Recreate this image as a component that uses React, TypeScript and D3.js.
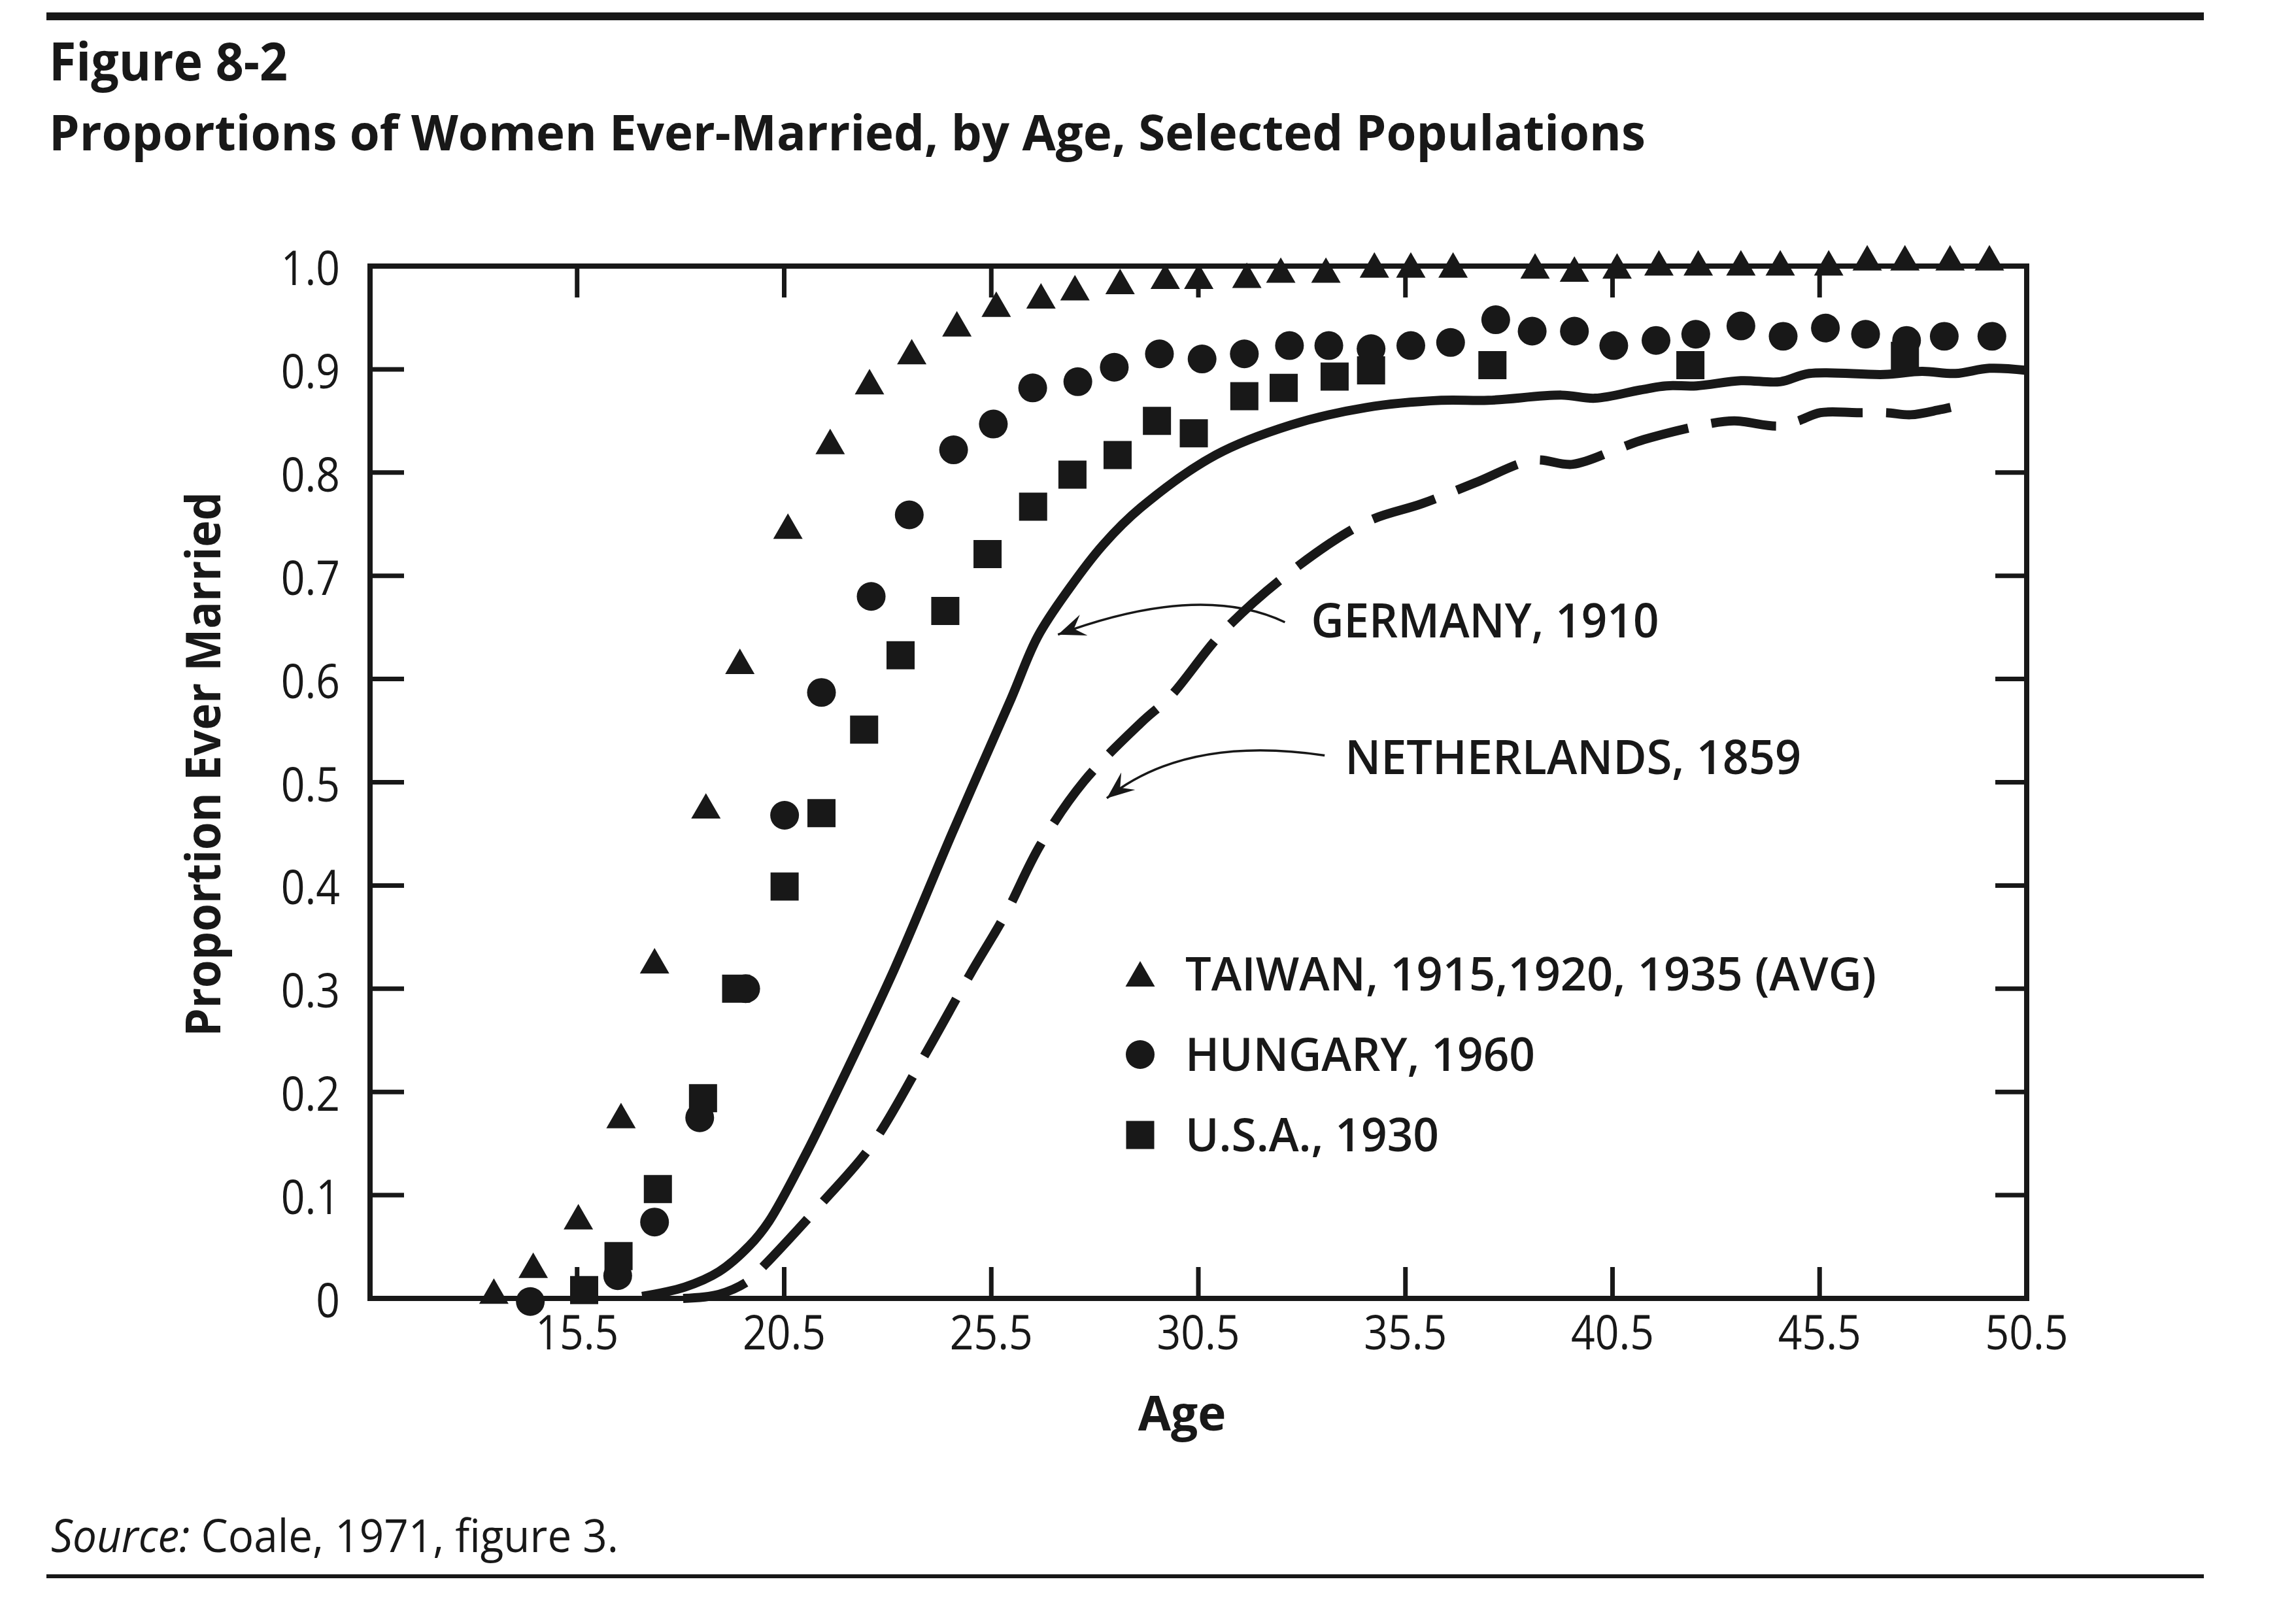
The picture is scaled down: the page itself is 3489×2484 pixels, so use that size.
import * as d3 from 'd3'

type Pt = [number, number]

// age, proportion ever married
const taiwan: Pt[] = [
  [13.49, 0.003], [14.44, 0.028], [15.53, 0.075], [16.56, 0.173], [17.37, 0.323],
  [18.61, 0.473], [19.43, 0.613], [20.59, 0.744], [21.61, 0.826], [22.56, 0.884],
  [23.58, 0.913], [24.67, 0.94], [25.62, 0.959], [26.7, 0.967], [27.52, 0.975],
  [28.61, 0.981], [29.7, 0.986], [30.51, 0.986], [31.67, 0.987], [32.49, 0.992],
  [33.58, 0.992], [34.75, 0.997], [35.63, 0.997], [36.65, 0.997], [38.63, 0.996],
  [39.58, 0.993], [40.61, 0.996], [41.62, 0.999], [42.57, 0.999], [43.6, 0.999],
  [44.55, 0.999], [45.72, 0.999], [46.65, 1.004], [47.56, 1.004], [48.65, 1.004],
  [49.6, 1.004],
]

const hungary: Pt[] = [
  [14.37, -0.003], [16.48, 0.022], [17.37, 0.074], [18.46, 0.175], [19.57, 0.3],
  [20.51, 0.468], [21.4, 0.587], [22.6, 0.68], [23.52, 0.759], [24.59, 0.822],
  [25.55, 0.847], [26.5, 0.882], [27.59, 0.888], [28.47, 0.902], [29.56, 0.915],
  [30.59, 0.91], [31.61, 0.915], [32.7, 0.923], [33.65, 0.923], [34.67, 0.92],
  [35.63, 0.923], [36.59, 0.926], [37.68, 0.948], [38.56, 0.937], [39.58, 0.937],
  [40.53, 0.923], [41.55, 0.928], [42.51, 0.934], [43.6, 0.942], [44.62, 0.932],
  [45.64, 0.94], [46.61, 0.934], [47.6, 0.928], [48.51, 0.932], [49.66, 0.932],
]

const usa: Pt[] = [
  [15.67, 0.008], [16.5, 0.041], [17.45, 0.106], [18.54, 0.194], [19.34, 0.3],
  [20.51, 0.399], [21.4, 0.47], [22.43, 0.551], [23.31, 0.623], [24.39, 0.666],
  [25.41, 0.721], [26.51, 0.767], [27.46, 0.798], [28.55, 0.817], [29.5, 0.85],
  [30.39, 0.838], [31.61, 0.874], [32.56, 0.882], [33.79, 0.893], [34.67, 0.899],
  [37.6, 0.904], [42.38, 0.904], [47.56, 0.913],
]

const germany: Pt[] = [
  [17.07, 0.002], [18.1, 0.011], [18.93, 0.026], [19.66, 0.051], [20.13, 0.0745],
  [21.0, 0.138], [21.75, 0.199], [23.16, 0.319], [24.57, 0.452], [25.98, 0.581],
  [26.62, 0.641], [27.39, 0.688], [28.2, 0.73], [29.11, 0.766], [30.92, 0.817],
  [32.73, 0.846], [34.55, 0.863], [36.36, 0.87], [37.5, 0.87], [39.27, 0.875],
  [40.08, 0.872], [41.17, 0.88], [41.8, 0.884], [42.53, 0.884], [43.6, 0.889],
  [44.55, 0.888], [45.25, 0.896], [47.06, 0.895], [47.97, 0.898], [48.78, 0.896],
  [49.6, 0.901], [50.5, 0.899],
]

const netherlands: Pt[] = [
  [18.06, 0.0], [18.93, 0.004], [19.64, 0.017], [20.02, 0.032], [21.4, 0.092],
  [22.6, 0.148], [23.87, 0.234], [24.99, 0.314], [25.84, 0.372], [26.68, 0.439],
  [27.74, 0.501], [29.15, 0.559], [29.82, 0.583], [31.1, 0.646], [32.73, 0.704],
  [34.55, 0.752], [35.91, 0.77], [37.18, 0.79], [38.59, 0.812], [39.54, 0.808],
  [40.63, 0.823], [41.26, 0.832], [42.8, 0.847], [43.44, 0.85], [44.52, 0.845],
  [44.98, 0.85], [45.52, 0.858], [46.4, 0.858], [47.11, 0.858], [47.7, 0.856],
  [48.42, 0.861], [49.19, 0.868],
]

const xTicks = [15.5, 20.5, 25.5, 30.5, 35.5, 40.5, 45.5, 50.5]
const yTicks = [0, 0.1, 0.2, 0.3, 0.4, 0.5, 0.6, 0.7, 0.8, 0.9, 1.0]
const yTickLabels = ['0', '0.1', '0.2', '0.3', '0.4', '0.5', '0.6', '0.7', '0.8', '0.9', '1.0']

const legendItems = [
  { label: 'TAIWAN, 1915,1920, 1935 (AVG)', shape: 'triangle', width: 1057 },
  { label: 'HUNGARY, 1960', shape: 'circle', width: 535 },
  { label: 'U.S.A., 1930', shape: 'square', width: 388 },
]

// arrow: tail near the label, bend point, tip on the curve (data units)
const callouts = [
  { label: 'GERMANY, 1910', width: 532, tail: [32.59, 0.655] as Pt, bend: [30.54, 0.694] as Pt, tip: [27.11, 0.643] as Pt, dx: 40, dy: 23 },
  { label: 'NETHERLANDS, 1859', width: 698, tail: [33.55, 0.526] as Pt, bend: [30.2, 0.546] as Pt, tip: [28.29, 0.4845] as Pt, dx: 31, dy: 29 },
]

const W = 3489
const H = 2484
const margin = { top: 407, right: 389, bottom: 498, left: 566 }
const ink = '#181818'
const font = "'Open Sans', 'Noto Sans', sans-serif"

const symbols: Record<string, string> = {
  triangle: d3.symbol(d3.symbolTriangle, 877)() ?? '',
  circle: d3.symbol(d3.symbolCircle, 1520)() ?? '',
  square: d3.symbol(d3.symbolSquare, 1849)() ?? '',
}

function arrowHead(tip: Pt, from: Pt, len = 42, half = 17) {
  const dx = tip[0] - from[0]
  const dy = tip[1] - from[1]
  const n = Math.hypot(dx, dy)
  const ux = dx / n
  const uy = dy / n
  const px = -uy
  const py = ux
  const bx = tip[0] - ux * len
  const by = tip[1] - uy * len
  const ix = tip[0] - ux * len * 0.62
  const iy = tip[1] - uy * len * 0.62
  return `M${tip[0]},${tip[1]}L${bx + px * half},${by + py * half}L${ix},${iy}L${bx - px * half},${by - py * half}Z`
}

export default function App() {
  const x = d3.scaleLinear().domain([10.5, 50.5]).range([margin.left, W - margin.right])
  const y = d3.scaleLinear().domain([0, 1]).range([H - margin.bottom, margin.top])
  const x0 = x.range()[0]
  const x1 = x.range()[1]
  const y0 = y.range()[0]
  const y1 = y.range()[1]

  const line = d3
    .line<Pt>()
    .x((d) => x(d[0]))
    .y((d) => y(d[1]))
    .curve(d3.curveCatmullRom.alpha(0.5))

  const series = [
    { key: 'taiwan', shape: 'triangle', points: taiwan },
    { key: 'hungary', shape: 'circle', points: hungary },
    { key: 'usa', shape: 'square', points: usa },
  ]

  return (
    <>
      <style>{'body{margin:0}'}</style>
      <svg width={W} height={H} viewBox={`0 0 ${W} ${H}`} style={{ display: 'block', background: '#fff' }}>
        <rect x={71} y={19} width={3300} height={12} fill={ink} />
        <rect x={71} y={2408} width={3300} height={6} fill={ink} />

        <text x={75} y={123} fontFamily={font} fontWeight={700} fontSize={80} fill={ink} textLength={365} lengthAdjust="spacingAndGlyphs">
          Figure 8-2
        </text>
        <text x={75} y={230} fontFamily={font} fontWeight={700} fontSize={76} fill={ink} textLength={2442} lengthAdjust="spacingAndGlyphs">
          Proportions of Women Ever-Married, by Age, Selected Populations
        </text>

        {/* curves */}
        <path d={line(germany) ?? undefined} fill="none" stroke={ink} strokeWidth={14} />
        <path d={line(netherlands) ?? undefined} fill="none" stroke={ink} strokeWidth={14} strokeDasharray="100 36" />

        {/* frame and inward ticks */}
        <rect x={x0} y={y1} width={x1 - x0} height={y0 - y1} fill="none" stroke={ink} strokeWidth={8} />
        {xTicks.map((t) => (
          <g key={`xt${t}`} stroke={ink} strokeWidth={7}>
            <line x1={x(t)} x2={x(t)} y1={y0} y2={y0 - 48} />
            <line x1={x(t)} x2={x(t)} y1={y1} y2={y1 + 48} />
          </g>
        ))}
        {yTicks.map((t) => (
          <g key={`yt${t}`} stroke={ink} strokeWidth={7}>
            <line x1={x0} x2={x0 + 52} y1={y(t)} y2={y(t)} />
            <line x1={x1} x2={x1 - 48} y1={y(t)} y2={y(t)} />
          </g>
        ))}

        {xTicks.map((t) => (
          <text key={`xl${t}`} transform={`translate(${x(t)},${y0 + 78}) scale(0.88,1)`} textAnchor="middle" fontFamily={font} fontSize={73} fill={ink}>
            {t.toFixed(1)}
          </text>
        ))}
        {yTicks.map((t, i) => (
          <text key={`yl${t}`} transform={`translate(520,${y(t) + 29}) scale(0.88,1)`} textAnchor="end" fontFamily={font} fontSize={73} fill={ink}>
            {yTickLabels[i]}
          </text>
        ))}

        <text x={1808} y={2188} textAnchor="middle" fontFamily={font} fontWeight={700} fontSize={73} fill={ink}>
          Age
        </text>
        <text
          transform={`translate(337,1169) rotate(-90)`}
          textAnchor="middle"
          fontFamily={font}
          fontWeight={700}
          fontSize={74}
          fill={ink}
          textLength={833}
          lengthAdjust="spacingAndGlyphs"
        >
          Proportion Ever Married
        </text>

        {/* point series */}
        {series.map((s) =>
          s.points.map((p, i) => (
            <path key={`${s.key}${i}`} d={symbols[s.shape]} transform={`translate(${x(p[0])},${y(p[1])})`} fill={ink} />
          ))
        )}

        {/* callouts */}
        {callouts.map((c) => {
          const tail: Pt = [x(c.tail[0]), y(c.tail[1])]
          const bend: Pt = [x(c.bend[0]), y(c.bend[1])]
          const tip: Pt = [x(c.tip[0]), y(c.tip[1])]
          const path = d3.path()
          path.moveTo(tail[0], tail[1])
          path.quadraticCurveTo(bend[0], bend[1], tip[0], tip[1])
          return (
            <g key={c.label}>
              <path d={path.toString()} fill="none" stroke={ink} strokeWidth={3.5} />
              <path d={arrowHead(tip, bend)} fill={ink} />
              <text x={tail[0] + c.dx} y={tail[1] + c.dy} fontFamily={font} fontWeight={600} fontSize={72} fill={ink} textLength={c.width} lengthAdjust="spacingAndGlyphs">
                {c.label}
              </text>
            </g>
          )
        })}

        {/* legend */}
        {legendItems.map((l, i) => (
          <g key={l.label} transform={`translate(1744,${1490 + i * 123})`}>
            <path d={symbols[l.shape]} transform={l.shape === 'triangle' ? 'translate(0,6)' : undefined} fill={ink} />
            <text x={69} y={25} fontFamily={font} fontWeight={600} fontSize={70} fill={ink} textLength={l.width} lengthAdjust="spacingAndGlyphs">
              {l.label}
            </text>
          </g>
        ))}

        <text x={78} y={2374} fontFamily={font} fontSize={69} fill={ink} textLength={868} lengthAdjust="spacingAndGlyphs">
          <tspan fontStyle="italic">Source:</tspan> Coale, 1971, figure 3.
        </text>
      </svg>
    </>
  )
}
